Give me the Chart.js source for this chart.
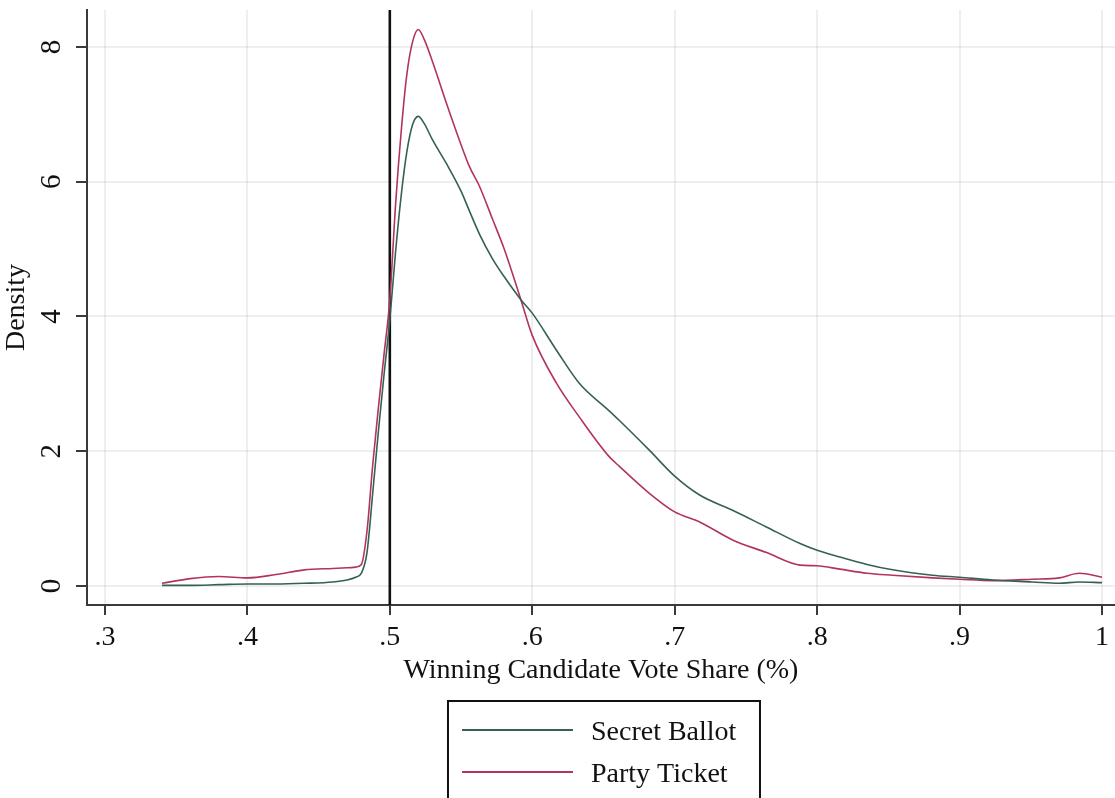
<!DOCTYPE html>
<html>
<head>
<meta charset="utf-8">
<script src="https://cdn.jsdelivr.net/npm/chart.js@4.4.1/dist/chart.umd.min.js"></script>
<style>
  html, body { margin: 0; padding: 0; background: #ffffff; }
  #wrap { width: 1115px; height: 798px; position: relative; }
</style>
</head>
<body>
<div id="wrap"><canvas id="c" width="1115" height="798"></canvas></div>
<script>
// ---- data ----
const voteShare = [0.34, 0.36, 0.38, 0.40, 0.42, 0.44, 0.46, 0.47, 0.476, 0.48, 0.484, 0.488, 0.492, 0.496, 0.500,
  0.504, 0.508, 0.512, 0.516, 0.520, 0.524, 0.530, 0.540, 0.550, 0.556, 0.563, 0.572, 0.580, 0.592, 0.600,
  0.617, 0.633, 0.654, 0.661, 0.682, 0.700, 0.7175, 0.741, 0.764, 0.788, 0.800, 0.816, 0.835, 0.853, 0.881,
  0.900, 0.923, 0.951, 0.970, 0.984, 1.000];
const secretBallot = [0.01, 0.01, 0.02, 0.03, 0.03, 0.04, 0.06, 0.09, 0.13, 0.19, 0.50, 1.38, 2.30, 3.15, 3.95,
  4.95, 5.80, 6.45, 6.85, 6.97, 6.87, 6.62, 6.26, 5.86, 5.56, 5.22, 4.86, 4.60, 4.25, 4.05,
  3.50, 3.01, 2.60, 2.46, 2.02, 1.63, 1.35, 1.12, 0.88, 0.63, 0.53, 0.43, 0.32, 0.24, 0.16,
  0.13, 0.09, 0.06, 0.04, 0.06, 0.05];
const partyTicket = [0.04, 0.11, 0.14, 0.12, 0.17, 0.24, 0.26, 0.27, 0.28, 0.32, 0.82, 1.80, 2.65, 3.45, 4.25,
  5.65, 6.75, 7.60, 8.08, 8.26, 8.12, 7.78, 7.15, 6.55, 6.22, 5.93, 5.45, 5.02, 4.25, 3.72,
  3.01, 2.51, 1.92, 1.78, 1.38, 1.10, 0.95, 0.68, 0.50, 0.31, 0.30, 0.25, 0.19, 0.16, 0.12,
  0.10, 0.08, 0.10, 0.12, 0.19, 0.13];
const seriesNames = ['Secret Ballot', 'Party Ticket'];
const xTickValues = [0.3, 0.4, 0.5, 0.6, 0.7, 0.8, 0.9, 1.0];
const xTickLabels = ['.3', '.4', '.5', '.6', '.7', '.8', '.9', '1'];
const yTickValues = [0, 2, 4, 6, 8];
const yTickLabels = ['0', '2', '4', '6', '8'];
const thresholdShare = 0.5;
const xTitle = 'Winning Candidate Vote Share (%)';
const yTitle = 'Density';

// ---- styling ----
const FONT = '"Liberation Serif", "Times New Roman", serif';
const GREEN = '#35614f';
const RED = '#b3345a';
const AXIS = '#3a3a3a';
const GRID = 'rgba(0,0,0,0.065)';
const X_MIN = 0.2874, X_MAX = 1.0091, Y_MIN = -0.282, Y_MAX = 8.549;

const toPoints = (ys) => voteShare.map((x, i) => ({ x: x, y: ys[i] }));

const yTickPlugin = {
  id: 'yTickLabels',
  afterDraw(chart) {
    const ys = chart.scales.y;
    const ctx = chart.ctx;
    ctx.save();
    ctx.fillStyle = '#111';
    ctx.font = '29px ' + FONT;
    ctx.textAlign = 'center';
    ctx.textBaseline = 'middle';
    yTickValues.forEach((v, i) => {
      const py = ys.getPixelForValue(v);
      ctx.save();
      ctx.translate(52, py);
      ctx.rotate(-Math.PI / 2);
      ctx.fillText(yTickLabels[i], 0, 0);
      ctx.restore();
    });
    ctx.restore();
  }
};

const legendPlugin = {
  id: 'boxLegend',
  afterDraw(chart) {
    const ctx = chart.ctx;
    const ca = chart.chartArea;
    const cx = (ca.left + ca.right) / 2 + 3;
    const left = cx - 156, right = cx + 156, top = 701;
    ctx.save();
    ctx.strokeStyle = '#111';
    ctx.lineWidth = 2;
    ctx.beginPath();
    ctx.moveTo(left, chart.height + 5);
    ctx.lineTo(left, top);
    ctx.lineTo(right, top);
    ctx.lineTo(right, chart.height + 5);
    ctx.stroke();
    const rows = [730, 772];
    chart.data.datasets.slice(0, 2).forEach((ds, i) => {
      ctx.strokeStyle = ds.borderColor;
      ctx.lineWidth = 2;
      ctx.beginPath();
      ctx.moveTo(left + 14, rows[i]);
      ctx.lineTo(left + 125, rows[i]);
      ctx.stroke();
      ctx.fillStyle = '#111';
      ctx.font = '28px ' + FONT;
      ctx.textAlign = 'left';
      ctx.textBaseline = 'middle';
      ctx.fillText(ds.label, left + 143, rows[i] + 3);
    });
    ctx.restore();
  }
};

new Chart(document.getElementById('c'), {
  type: 'line',
  data: {
    datasets: [
      { label: seriesNames[0], data: toPoints(secretBallot), borderColor: GREEN, borderWidth: 1.6,
        pointRadius: 0, cubicInterpolationMode: 'monotone', fill: false },
      { label: seriesNames[1], data: toPoints(partyTicket), borderColor: RED, borderWidth: 1.6,
        pointRadius: 0, cubicInterpolationMode: 'monotone', fill: false },
      { label: 'threshold', data: [{ x: thresholdShare, y: Y_MIN }, { x: thresholdShare, y: Y_MAX }],
        borderColor: '#111', borderWidth: 2.6, pointRadius: 0, tension: 0, fill: false }
    ]
  },
  options: {
    responsive: false,
    animation: false,
    devicePixelRatio: 1,
    layout: { padding: { top: 10, right: 0, bottom: 111, left: 0 } },
    plugins: { legend: { display: false }, tooltip: { enabled: false } },
    scales: {
      x: {
        type: 'linear', min: X_MIN, max: X_MAX,
        afterBuildTicks(scale) { scale.ticks = xTickValues.map(v => ({ value: v })); },
        afterFit(scale) { scale.height = 82; },
        ticks: {
          autoSkip: false, maxRotation: 0, minRotation: 0, padding: 6,
          color: '#111', font: { family: FONT, size: 28 },
          callback(v) { const i = xTickValues.findIndex(t => Math.abs(t - v) < 1e-6); return i >= 0 ? xTickLabels[i] : ''; }
        },
        grid: { color: GRID, lineWidth: 2, tickColor: AXIS, tickLength: 10, tickWidth: 2 },
        border: { color: AXIS, width: 2 },
        title: { display: true, text: xTitle, color: '#111', font: { family: FONT, size: 28 }, padding: 0 }
      },
      y: {
        type: 'linear', min: Y_MIN, max: Y_MAX,
        afterBuildTicks(scale) { scale.ticks = yTickValues.map(v => ({ value: v })); },
        afterFit(scale) { scale.width = 87; },
        ticks: { display: false },
        grid: { color: GRID, lineWidth: 2, tickColor: AXIS, tickLength: 11, tickWidth: 2 },
        border: { color: AXIS, width: 2 },
        title: { display: true, text: yTitle, color: '#111', font: { family: FONT, size: 28 }, padding: 0 }
      }
    }
  },
  plugins: [yTickPlugin, legendPlugin]
});
</script>
</body>
</html>
